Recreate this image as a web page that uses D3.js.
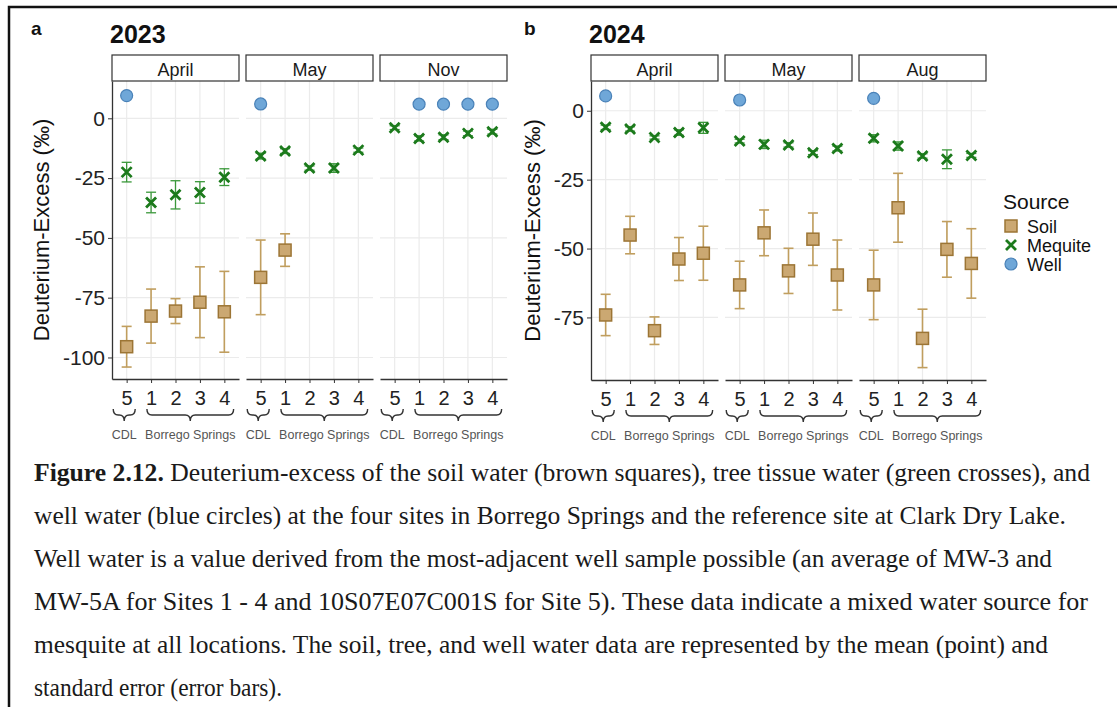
<!DOCTYPE html>
<html>
<head>
<meta charset="utf-8">
<script src="https://cdn.jsdelivr.net/npm/d3@7"></script>
<style>
  body { margin: 0; background: #fff; }
  svg { display: block; font-family: "Liberation Sans", Arial, sans-serif; }
</style>
</head>
<body>
<svg id="fig" width="1117" height="707"></svg>
<script>
// sites in the order they are plotted on x
var sites = ["5", "1", "2", "3", "4"];
var groupLabels = ["CDL", "Borrego Springs"];
var sources = ["Soil", "Mequite", "Well"];

var months2023 = ["April", "May", "Nov"];
var months2024 = ["April", "May", "Aug"];
var yTicks2023 = [0, -25, -50, -75, -100];
var yTicks2024 = [0, -25, -50, -75];

// one row per month, one value per site (5,1,2,3,4); null = no sample
var soil2023 = [[-95.5, -82.7, -80.6, -76.9, -80.9],
                [-66.5, -55.1, null, null, null],
                [null, null, null, null, null]];
var soilSe2023 = [[8.5, 11.3, 5.2, 14.8, 16.9],
                  [15.6, 6.8, null, null, null],
                  [null, null, null, null, null]];
var mesq2023 = [[-22.5, -35.2, -32.0, -31.0, -24.6],
                [-15.8, -13.7, -20.8, -20.8, -13.3],
                [-3.9, -8.4, -7.9, -6.3, -5.6]];
var mesqSe2023 = [[4.1, 4.3, 5.9, 4.5, 3.5],
                  [1.2, 1.0, 0.9, 1.8, 0.9],
                  [0.8, 1.1, 1.0, 1.0, 1.0]];
var well2023 = [[9.5, null, null, null, null],
                [6.0, null, null, null, null],
                [null, 5.9, 5.9, 5.9, 5.9]];
var wellSe2023 = [[0.4, null, null, null, null],
                  [0.4, null, null, null, null],
                  [null, 0.6, 0.6, 0.6, 0.6]];

var soil2024 = [[-74.1, -45.1, -79.8, -53.8, -51.7],
                [-63.2, -44.3, -58.1, -46.6, -59.6],
                [-63.2, -35.2, -82.6, -50.3, -55.4]];
var soilSe2024 = [[7.5, 6.8, 5.0, 7.8, 9.8],
                  [8.6, 8.3, 8.2, 9.5, 12.7],
                  [12.6, 12.5, 10.6, 10.1, 12.6]];
var mesq2024 = [[-6.0, -6.6, -9.7, -7.9, -6.2],
                [-11.0, -12.2, -12.4, -15.2, -13.7],
                [-10.0, -12.8, -16.4, -17.6, -16.2]];
var mesqSe2024 = [[0.8, 0.8, 0.6, 1.0, 2.0],
                  [0.7, 1.5, 0.8, 0.7, 0.9],
                  [1.3, 1.5, 0.8, 3.4, 0.7]];
var well2024 = [[5.4, null, null, null, null],
                [3.9, null, null, null, null],
                [4.5, null, null, null, null]];
var wellSe2024 = [[0.4, null, null, null, null],
                  [1.0, null, null, null, null],
                  [0.8, null, null, null, null]];

var captionLines = [
  " Deuterium-excess of the soil water (brown squares), tree tissue water (green crosses), and",
  "well water (blue circles) at the four sites in Borrego Springs and the reference site at Clark Dry Lake.",
  "Well water is a value derived from the most-adjacent well sample possible (an average of MW-3 and",
  "MW-5A for Sites 1 - 4 and 10S07E07C001S for Site 5). These data indicate a mixed water source for",
  "mesquite at all locations. The soil, tree, and well water data are represented by the mean (point) and",
  "standard error (error bars)."
];
var captionLead = "Figure 2.12.";

var col = {
  Soil:    { fill: "#cba872", stroke: "#9c7535", bar: "#c09e5e" },
  Mequite: { stroke: "#1c7a1c", bar: "#3a983a" },
  Well:    { fill: "#6fa7d8", stroke: "#4a82b8", bar: "#3f78ad" }
};
var axisCol = "#333";
var font = "'Liberation Sans', Arial, sans-serif";

var svg = d3.select("#fig");
svg.append("rect").attr("width", 1117).attr("height", 707).attr("fill", "#fff");
// outer frame of the screenshot
svg.append("rect").attr("x", 9).attr("y", 7).attr("width", 1300).attr("height", 900)
  .attr("fill", "none").attr("stroke", "#111").attr("stroke-width", 2.5);

function drawSquare(g, cx, cy) {
  g.append("rect").attr("x", cx - 6).attr("y", cy - 6).attr("width", 12).attr("height", 12)
    .attr("fill", col.Soil.fill).attr("stroke", col.Soil.stroke).attr("stroke-width", 1.5);
}
function drawCross(g, cx, cy) {
  g.append("path").attr("d", "M" + (cx - 5) + "," + (cy - 5) + "L" + (cx + 5) + "," + (cy + 5) +
      "M" + (cx - 5) + "," + (cy + 5) + "L" + (cx + 5) + "," + (cy - 5))
    .attr("stroke", col.Mequite.stroke).attr("stroke-width", 2.8).attr("fill", "none");
}
function drawCircle(g, cx, cy) {
  g.append("circle").attr("cx", cx).attr("cy", cy).attr("r", 6)
    .attr("fill", col.Well.fill).attr("stroke", col.Well.stroke).attr("stroke-width", 1.2);
}

function brace(x0, x1, yTop, h) {
  var xm = (x0 + x1) / 2, ym = yTop + h / 2, q = 5;
  return "M" + x0 + "," + yTop + "Q" + x0 + "," + ym + " " + (x0 + q) + "," + ym +
    "L" + (xm - q) + "," + ym + "Q" + xm + "," + ym + " " + xm + "," + (yTop + h) +
    "Q" + xm + "," + ym + " " + (xm + q) + "," + ym +
    "L" + (x1 - q) + "," + ym + "Q" + x1 + "," + ym + " " + x1 + "," + yTop;
}

function drawYear(cfg) {
  var g = svg.append("g");
  var y = d3.scaleLinear().domain(cfg.domain).range([cfg.bottom, cfg.top]);

  g.append("text").attr("x", cfg.tagX).attr("y", 35).attr("font-size", 19)
    .attr("font-weight", "bold").attr("fill", "#111").text(cfg.tag);
  g.append("text").attr("x", cfg.left - 2).attr("y", 43).attr("font-size", 25)
    .attr("font-weight", "bold").attr("fill", "#111").text(cfg.title);
  g.append("text")
    .attr("transform", "translate(" + cfg.titleX + "," + (cfg.top + cfg.bottom) / 2 + ") rotate(-90)")
    .attr("text-anchor", "middle").attr("dy", "0.35em").attr("font-size", 22).attr("fill", "#111")
    .text("Deuterium-Excess (‰)");

  cfg.months.forEach(function(month, i) {
    var pl = cfg.left + i * (cfg.panelW + cfg.gap), pr = pl + cfg.panelW;
    var x = d3.scalePoint().domain(sites).range([pl, pr]).padding(0.6);
    var step = x.step();
    var p = g.append("g");

    p.selectAll(".hgrid").data(cfg.ticks).join("line").attr("class", "hgrid")
      .attr("x1", pl).attr("x2", pr).attr("y1", d => y(d)).attr("y2", d => y(d))
      .attr("stroke", "#ebebeb").attr("stroke-width", 1.2);
    p.selectAll(".vgrid").data(sites).join("line").attr("class", "vgrid")
      .attr("x1", d => x(d)).attr("x2", d => x(d)).attr("y1", cfg.top).attr("y2", cfg.bottom)
      .attr("stroke", "#ebebeb").attr("stroke-width", 1.2);

    // facet strip
    p.append("rect").attr("x", pl).attr("y", cfg.stripTop).attr("width", cfg.panelW)
      .attr("height", cfg.top - cfg.stripTop).attr("fill", "#fff")
      .attr("stroke", axisCol).attr("stroke-width", 1.2);
    p.append("text").attr("x", (pl + pr) / 2).attr("y", cfg.top - 5).attr("text-anchor", "middle")
      .attr("font-size", 18).attr("fill", "#1a1a1a").text(month);

    var xa = p.append("g").attr("transform", "translate(0," + cfg.bottom + ")")
      .call(d3.axisBottom(x).tickSize(4).tickSizeOuter(0).tickPadding(8));
    xa.attr("font-family", font).attr("font-size", 20);
    xa.select(".domain").attr("stroke", axisCol).attr("stroke-width", 1.3);
    xa.selectAll(".tick line").attr("stroke", axisCol);
    xa.selectAll(".tick text").attr("fill", "#222");

    if (i === 0) {
      var ya = p.append("g").attr("transform", "translate(" + pl + ",0)")
        .call(d3.axisLeft(y).tickValues(cfg.ticks).tickSize(4).tickSizeOuter(0).tickPadding(3)
          .tickFormat(d => String(d)));
      ya.attr("font-family", font).attr("font-size", 21);
      ya.select(".domain").attr("stroke", axisCol).attr("stroke-width", 1.3);
      ya.selectAll(".tick line").attr("stroke", axisCol);
      ya.selectAll(".tick text").attr("fill", "#222");
    }

    function rows(means, ses, src) {
      return sites.map(function(s, j) {
        return { site: s, mean: means[i][j], se: ses[i][j], src: src };
      }).filter(d => d.mean !== null);
    }
    var soil = rows(cfg.soil, cfg.soilSe, "Soil");
    var mesq = rows(cfg.mesq, cfg.mesqSe, "Mequite");
    var well = rows(cfg.well, cfg.wellSe, "Well");
    var all = soil.concat(mesq, well);

    var eb = p.selectAll(".eb").data(all).join("g").attr("class", "eb")
      .attr("stroke", d => col[d.src].bar).attr("stroke-width", d => d.src === "Soil" ? 1.6 : 1.3)
      .attr("fill", "none");
    eb.append("line").attr("x1", d => x(d.site)).attr("x2", d => x(d.site))
      .attr("y1", d => y(d.mean - d.se)).attr("y2", d => y(d.mean + d.se));
    eb.append("line").attr("x1", d => x(d.site) - 5).attr("x2", d => x(d.site) + 5)
      .attr("y1", d => y(d.mean - d.se)).attr("y2", d => y(d.mean - d.se));
    eb.append("line").attr("x1", d => x(d.site) - 5).attr("x2", d => x(d.site) + 5)
      .attr("y1", d => y(d.mean + d.se)).attr("y2", d => y(d.mean + d.se));

    soil.forEach(d => drawSquare(p, x(d.site), y(d.mean)));
    mesq.forEach(d => drawCross(p, x(d.site), y(d.mean)));
    well.forEach(d => drawCircle(p, x(d.site), y(d.mean)));

    // site grouping braces under the axis
    var spans = [[x("5") - 0.55 * step, x("5") + 0.35 * step],
                 [x("1") - 0.17 * step, x("4") + 0.38 * step]];
    spans.forEach(function(sp, k) {
      p.append("path").attr("d", brace(sp[0], sp[1], cfg.bottom + 30, 12))
        .attr("fill", "none").attr("stroke", "#333").attr("stroke-width", 1.4);
      p.append("text").attr("x", (sp[0] + sp[1]) / 2).attr("y", cfg.bottom + 60)
        .attr("text-anchor", "middle").attr("font-size", 12.5).attr("fill", "#555")
        .text(groupLabels[k]);
    });
  });
}

drawYear({ tag: "a", tagX: 31, title: "2023", titleX: 41, left: 112, panelW: 127, gap: 7,
  stripTop: 55, top: 81, bottom: 379, domain: [-109, 15.6], ticks: yTicks2023, months: months2023,
  soil: soil2023, soilSe: soilSe2023, mesq: mesq2023, mesqSe: mesqSe2023, well: well2023, wellSe: wellSe2023 });

drawYear({ tag: "b", tagX: 524, title: "2024", titleX: 532, left: 591, panelW: 127, gap: 7,
  stripTop: 55, top: 81, bottom: 380, domain: [-97.7, 10.8], ticks: yTicks2024, months: months2024,
  soil: soil2024, soilSe: soilSe2024, mesq: mesq2024, mesqSe: mesqSe2024, well: well2024, wellSe: wellSe2024 });

// legend
var lg = svg.append("g").attr("transform", "translate(1003,0)");
lg.append("text").attr("x", 0).attr("y", 209).attr("font-size", 21).attr("fill", "#111").text("Source");
sources.forEach(function(s, k) {
  var cy = 226 + k * 19;
  if (s === "Soil") drawSquare(lg, 8, cy);
  if (s === "Mequite") drawCross(lg, 8, cy);
  if (s === "Well") drawCircle(lg, 8, cy);
  lg.append("text").attr("x", 24).attr("y", cy + 6.5).attr("font-size", 18).attr("fill", "#111").text(s);
});

// caption
var capW = [1056, 1032, 1018, 1054, 1014, 248];
var cap = svg.append("g").attr("font-family", "'Liberation Serif', 'Times New Roman', serif")
  .attr("font-size", 25).attr("fill", "#1a1a1a");
captionLines.forEach(function(line, k) {
  var t = cap.append("text").attr("x", 34).attr("y", 481 + k * 43)
    .attr("textLength", capW[k]).attr("lengthAdjust", "spacingAndGlyphs");
  if (k === 0) t.append("tspan").attr("font-weight", "bold").text(captionLead);
  t.append("tspan").text(line);
});
</script>
</body>
</html>
